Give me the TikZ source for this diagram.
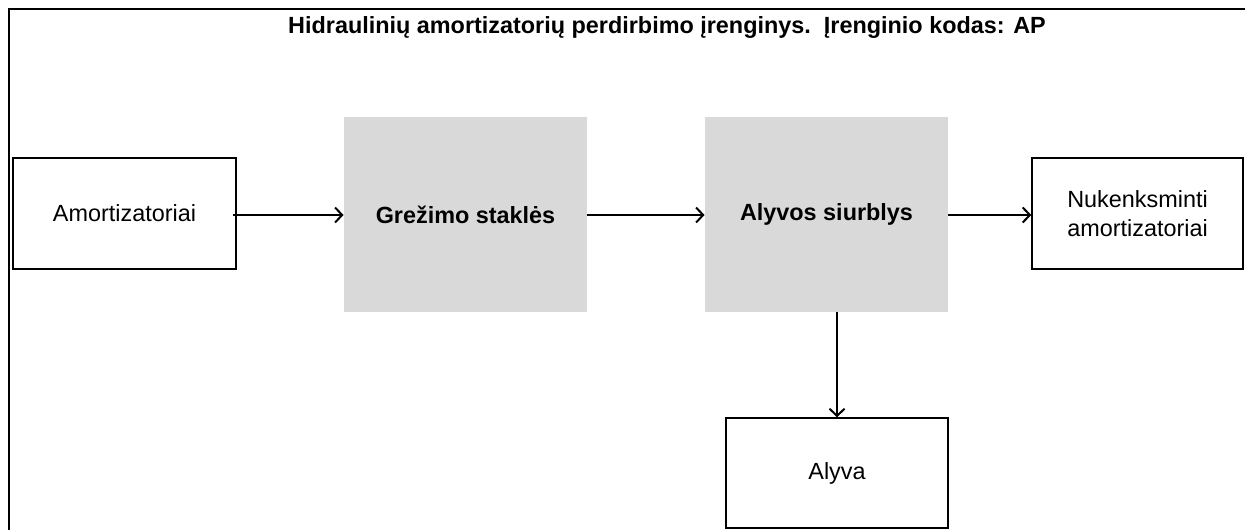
\documentclass[tikz,border=0pt]{standalone}
\usepackage{fontspec}
\setmainfont{Liberation Sans}
\usetikzlibrary{arrows.meta}
\begin{document}
\begin{tikzpicture}[x=0.5pt,y=-0.5pt,
  font=\fontsize{11.7}{14.5}\selectfont,
  plainbox/.style={draw=black, line width=0.7pt, fill=white, inner sep=0pt, align=center},
  machine/.style={fill=black!15, draw=none, inner sep=0pt, align=center, font=\fontsize{11.7}{14.5}\selectfont\bfseries},
  flow/.style={line width=1pt, -{Straight Barb[length=3.6pt,width=7.5pt,line width=1pt]}},
  frameline/.style={line width=1.2pt, line cap=rect}]
\useasboundingbox (0,0) rectangle (1245,529);
% outer frame (top and left edges)
\coordinate (fr-l) at (9,529);
\coordinate (fr-c) at (9,9);
\coordinate (fr-r) at (1245,9);
\draw[frameline] (fr-l) -- (fr-c) -- (fr-r);
% title
\node[font=\fontsize{11.7}{14.5}\selectfont\bfseries] (title) at (667,28)
  {Hidraulinių amortizatorių perdirbimo įrenginys.\ \ Įrenginio kodas: AP};
% boxes
\node[plainbox, minimum width=111.5pt, minimum height=55.5pt] (amort) at (124.5,213.5) {Amortizatoriai};
\node[machine, minimum width=121.5pt, minimum height=97.5pt] (grez) at (465.5,214.5) {Grežimo staklės};
\node[machine, minimum width=121.5pt, minimum height=97.5pt] (siur) at (826.5,214.5) {Alyvos siurblys};
\node[plainbox, minimum width=105.5pt, minimum height=55.5pt] (nuken) at (1137.5,213.5) {Nukenksminti\\amortizatoriai};
\node[plainbox, minimum width=111pt, minimum height=55pt] (alyva) at (837,473) {Alyva};
% main flow runs along one horizontal line
\coordinate (row) at (0,215);
\draw[flow] ([xshift=-2pt]amort.east |- row) -- (grez.west |- row);
\draw[flow] (grez.east |- row) -- (siur.west |- row);
\draw[flow] (siur.east |- row) -- (nuken.west |- row);
\draw[flow] (siur.south -| alyva.north) -- (alyva.north);
\end{tikzpicture}
\end{document}
